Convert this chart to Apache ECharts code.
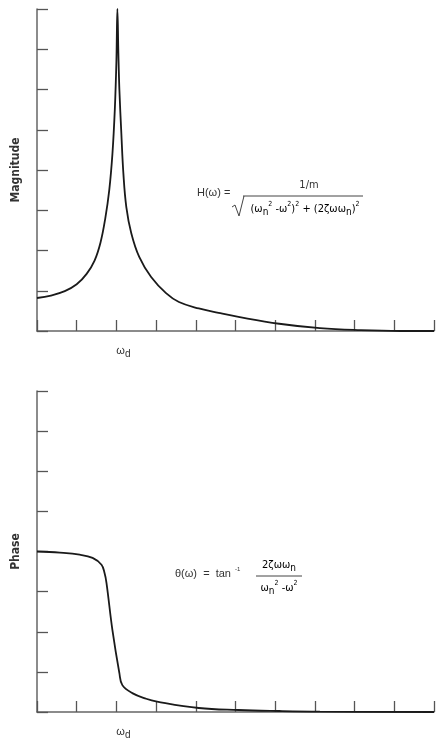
<!DOCTYPE html>
<html>
<head>
<meta charset="utf-8">
<script src="https://cdn.jsdelivr.net/npm/echarts@6/dist/echarts.min.js"></script>
<style>html,body{margin:0;padding:0;background:#fff}#c{width:437px;height:749px}</style>
</head>
<body>
<div id="c"></div>
<script>
// Frequency axis in tick units (ω_d sits at tick 2)
const magFreq = [0, 0.35, 0.7, 1.0, 1.25, 1.45, 1.6, 1.72, 1.82, 1.9, 1.96, 2.0, 2.025, 2.05, 2.075, 2.125, 2.175, 2.25, 2.375, 2.575, 2.875, 3.25, 3.575, 4.075, 4.575, 5.075, 6.1, 7.125, 8.15, 9.15, 10];
const magValues = [0.82, 0.88, 0.99, 1.16, 1.42, 1.75, 2.2, 2.8, 3.5, 4.4, 5.5, 6.7, 8.0, 6.9, 6.0, 4.9, 3.93, 3.08, 2.43, 1.84, 1.34, 0.94, 0.72, 0.56, 0.45, 0.35, 0.18, 0.07, 0.02, 0.0, 0.0];
const phaseFreq = [0, 0.575, 1.075, 1.4, 1.625, 1.7, 1.75, 1.9, 2.075, 2.15, 2.4, 2.75, 3.025, 4.075, 5.075, 6.1, 7.125, 10];
const phaseValues = [4.0, 3.97, 3.92, 3.84, 3.67, 3.47, 3.22, 2.04, 0.97, 0.67, 0.47, 0.33, 0.26, 0.10, 0.05, 0.025, 0.01, 0.0];
const tickLabelAt = 2;
const tickLabel = '{w|ω}{d|d}';
const magName = 'Magnitude';
const phaseName = 'Phase';

const FONT = "'Liberation Sans Narrow','DejaVu Sans Condensed','Liberation Sans',sans-serif";
const FFONT = "'Liberation Sans',Arial,sans-serif";
const axisGray = '#666';
const ink = '#1a1a1a';
const textCol = '#333';

function xAx(gi) {
  return {
    type: 'value', gridIndex: gi, min: 0, max: 10, interval: 1,
    axisLine: { lineStyle: { color: axisGray, width: 1.5 } },
    axisTick: { inside: true, length: 11, lineStyle: { color: '#555', width: 1.3 } },
    splitLine: { show: false },
    axisLabel: {
      margin: 12, fontFamily: FFONT, color: textCol, padding: [0, 0, 0, 14],
      formatter: v => (v === tickLabelAt ? tickLabel : ''),
      rich: {
        w: { fontSize: 11, fontFamily: FFONT, color: textCol },
        d: { fontSize: 10, fontFamily: FFONT, color: textCol, padding: [6, 0, 0, 0] }
      }
    }
  };
}
function yAx(gi, name) {
  return {
    type: 'value', gridIndex: gi, min: 0, max: 8, interval: 1,
    name: name, nameLocation: 'middle', nameGap: 15, nameRotate: 90,
    nameTextStyle: { fontFamily: FONT, fontSize: 12, color: textCol, fontWeight: 'bold' },
    axisLine: { show: true, lineStyle: { color: axisGray, width: 1.5 } },
    axisTick: { show: true, inside: true, length: 11, lineStyle: { color: '#555', width: 1.3 } },
    axisLabel: { show: false },
    splitLine: { show: false }
  };
}

const subSup = {
  b: { fontSize: 11, fontFamily: FONT, color: textCol, lineHeight: 17 },
  sup: { fontSize: 7, fontFamily: FONT, color: textCol, verticalAlign: 'top', lineHeight: 17 },
  sub: { fontSize: 10, fontFamily: FONT, color: textCol, verticalAlign: 'bottom', lineHeight: 17 }
};

const chart = echarts.init(document.getElementById('c'), null, { renderer: 'canvas' });
chart.setOption({
  animation: false,
  backgroundColor: '#fff',
  grid: [
    { left: 37, top: 9, width: 400, height: 322 },
    { left: 37, top: 391, width: 400, height: 321 }
  ],
  xAxis: [xAx(0), xAx(1)],
  yAxis: [yAx(0, magName), yAx(1, phaseName)],
  series: [
    {
      type: 'line', xAxisIndex: 0, yAxisIndex: 0, symbol: 'none',
      smooth: 0.4,
      lineStyle: { color: ink, width: 1.8 },
      data: magFreq.map((f, i) => [f, magValues[i]])
    },
    {
      type: 'line', xAxisIndex: 1, yAxisIndex: 1, symbol: 'none',
      smooth: 0.4,
      lineStyle: { color: ink, width: 1.8 },
      data: phaseFreq.map((f, i) => [f, phaseValues[i]])
    }
  ],
  graphic: [
    // Magnitude formula
    { type: 'text', x: 197, y: 193, style: { text: 'H(ω) =', fontSize: 11, fontFamily: FFONT, fill: textCol, align: 'left', verticalAlign: 'middle' } },
    { type: 'text', x: 309, y: 185, style: { text: '1/m', fontSize: 11, fontFamily: FONT, fill: textCol, align: 'center', verticalAlign: 'middle' } },
    { type: 'line', shape: { x1: 243, y1: 196, x2: 363, y2: 196 }, style: { stroke: '#444', lineWidth: 1 } },
    { type: 'polyline', shape: { points: [[232, 207], [235, 205], [239, 216], [244, 196]] }, style: { stroke: '#444', lineWidth: 1, fill: null } },
    { type: 'text', x: 305, y: 209, style: {
        text: '{b|(ω}{sub|n}{sup|2}{b| -ω}{sup|2}{b|)}{sup|2}{b| + (2ζωω}{sub|n}{b|)}{sup|2}',
        align: 'center', verticalAlign: 'middle', rich: subSup } },
    // Phase formula
    { type: 'text', x: 175, y: 574, style: { text: 'θ(ω)  =  tan', fontSize: 11, fontFamily: FFONT, fill: textCol, align: 'left', verticalAlign: 'middle' } },
    { type: 'text', x: 235, y: 569, style: { text: '-1', fontSize: 6, fontFamily: FFONT, fill: textCol, align: 'left', verticalAlign: 'middle' } },
    { type: 'text', x: 279, y: 565, style: { text: '{b|2ζωω}{sub|n}', align: 'center', verticalAlign: 'middle', rich: subSup } },
    { type: 'line', shape: { x1: 256, y1: 576, x2: 302, y2: 576 }, style: { stroke: '#444', lineWidth: 1 } },
    { type: 'text', x: 279, y: 588, style: { text: '{b|ω}{sub|n}{sup|2}{b| -ω}{sup|2}', align: 'center', verticalAlign: 'middle', rich: subSup } }
  ]
});
</script>
</body>
</html>
